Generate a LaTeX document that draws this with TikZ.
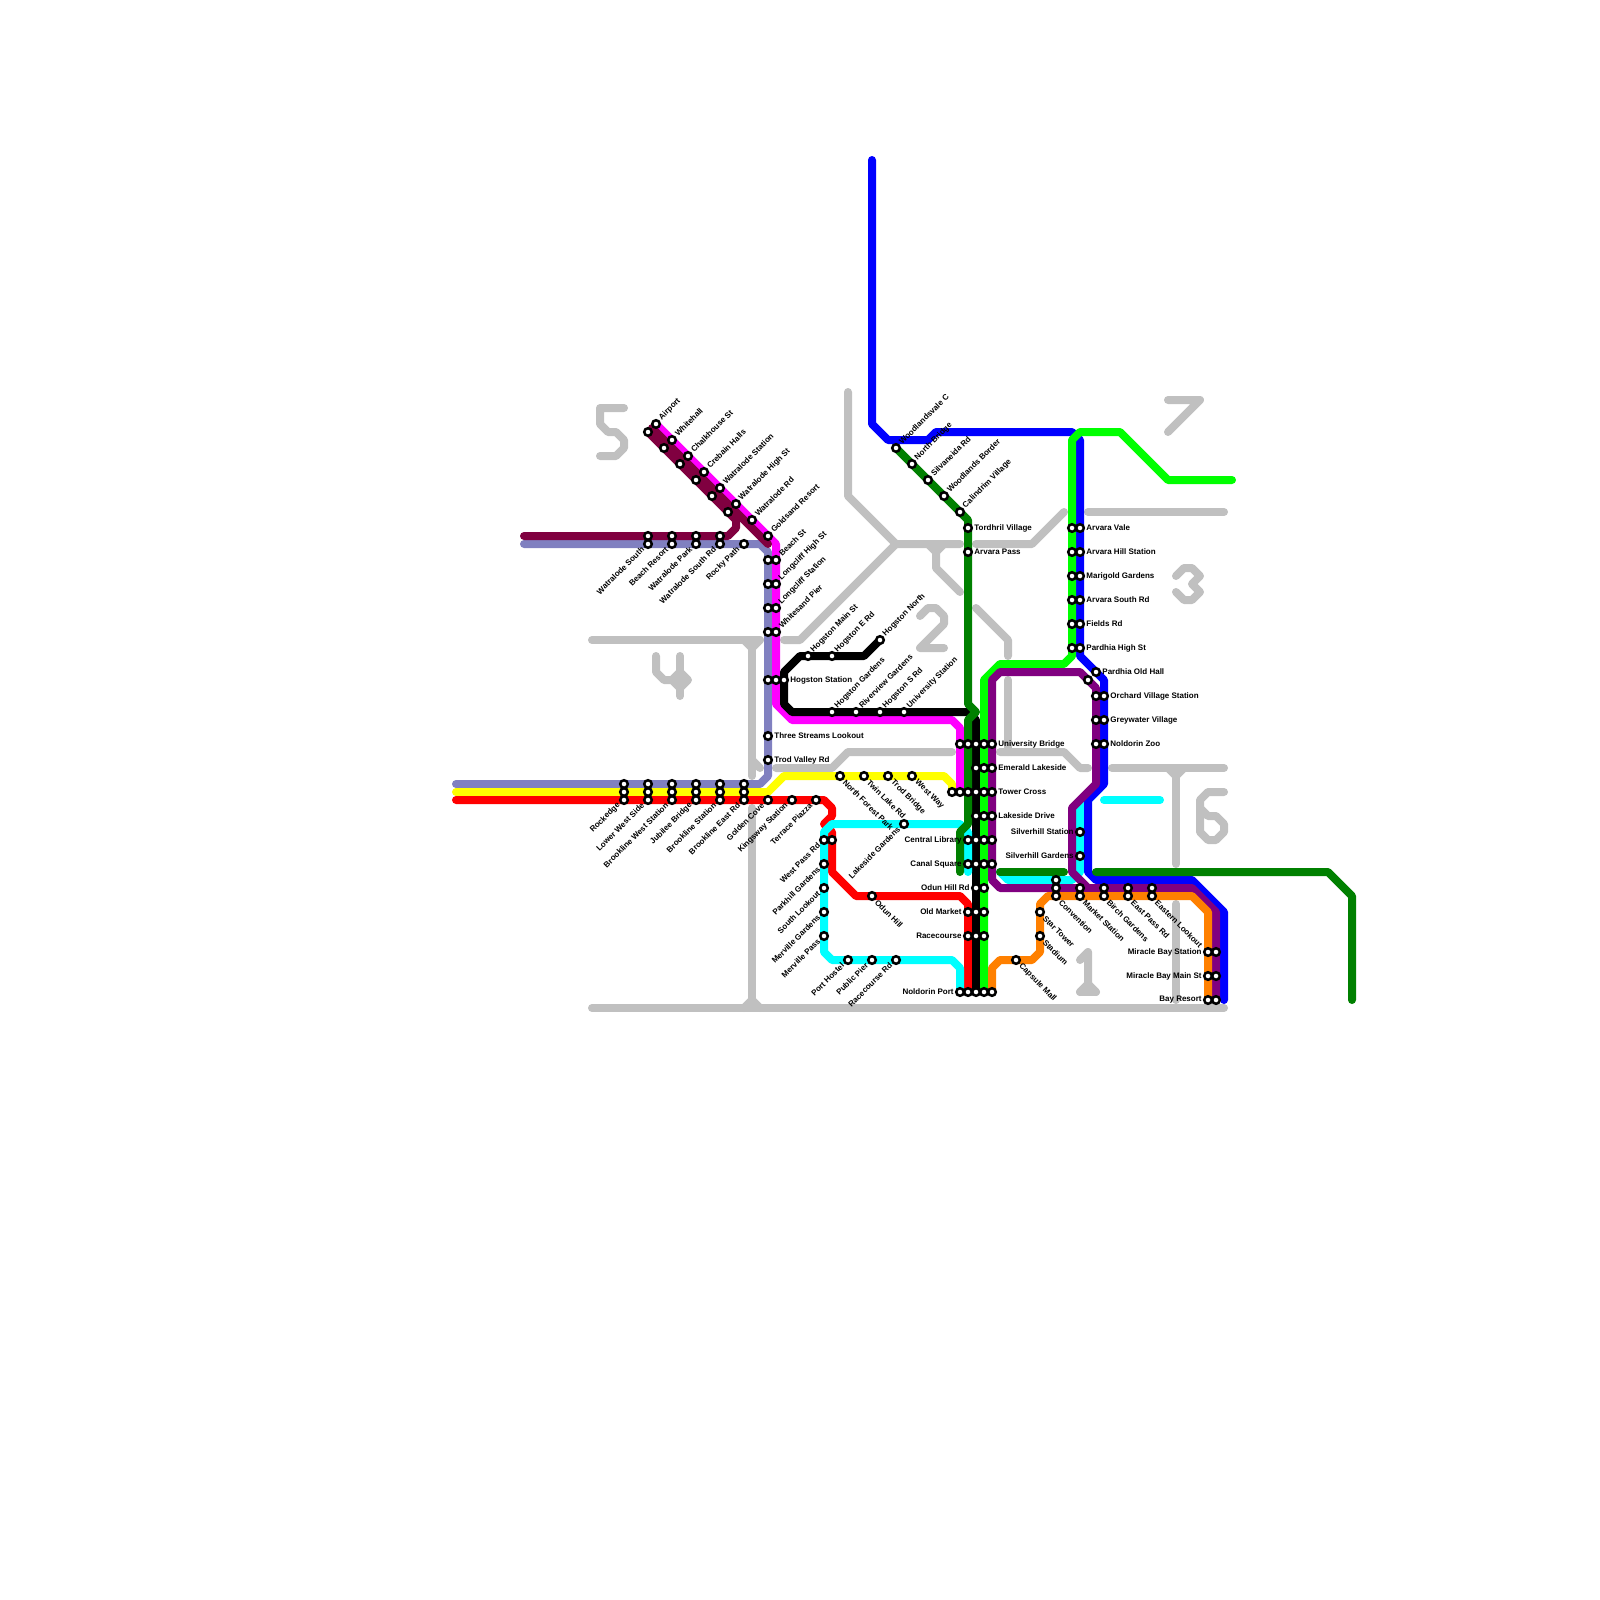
\documentclass[tikz,border=0pt]{standalone}
\usepackage{fontspec}
\setmainfont{Liberation Sans}
\definecolor{greyRiver}{HTML}{C0C0C0}
\definecolor{linePeri}{HTML}{8080C0}
\definecolor{lineMaroon}{HTML}{800040}
\definecolor{lineDark}{HTML}{008000}
\definecolor{lineOrange}{HTML}{FF8000}
\definecolor{lineMagenta}{HTML}{FF00FF}
\definecolor{lineCyan}{HTML}{00FFFF}
\definecolor{lineBlue}{HTML}{0000FF}
\definecolor{lineLime}{HTML}{00FF00}
\definecolor{linePurple}{HTML}{800080}
\definecolor{lineRed}{HTML}{FF0000}
\definecolor{lineYellow}{HTML}{FFFF00}
\tikzset{
  route/.style={line width=4pt,line cap=round,line join=round},
  river/.style={route,greyRiver},
  stop/.style={circle,draw=black,fill=white,line width=1.25pt,minimum size=3.8pt,inner sep=0pt},
  lab/.style={inner sep=0pt,font=\fontsize{4}{4}\selectfont\bfseries},
}
\begin{document}
\begin{tikzpicture}[x=0.5pt,y=-0.5pt]
  \useasboundingbox (0,0) rectangle (1600,1600);
  \fill[white] (0,0) rectangle (1600,1600);
  \draw[river] (592,1008) -- (1224,1008);
  \draw[river] (744,1008) -- (752,1000) -- (760,1008);
  \draw[river] (752,808) -- (752,1000);
  \draw[river] (592,640) -- (760,640);
  \draw[river] (744,640) -- (752,648) -- (760,640);
  \draw[river] (752,648) -- (752,776);
  \draw[river] (752,760) -- (760,768);
  \draw[river] (784,640) -- (800,640) -- (896,544);
  \draw[river] (848,392) -- (848,496) -- (896,544) -- (960,544);
  \draw[river] (976,544) -- (1032,544) -- (1064,512);
  \draw[river] (928,544) -- (936,552) -- (944,544);
  \draw[river] (936,552) -- (936,568) -- (960,592);
  \draw[river] (976,608) -- (1008,640) -- (1008,656);
  \draw[river] (1008,680) -- (1008,752);
  \draw[river] (1000,752) -- (1064,752) -- (1080,768) -- (1088,768);
  \draw[river] (776,768) -- (832,768) -- (848,752) -- (952,752);
  \draw[river] (1112,768) -- (1224,768);
  \draw[river] (1168,768) -- (1176,776) -- (1184,768);
  \draw[river] (1176,776) -- (1176,864);
  \draw[river] (1176,904) -- (1176,1000);
  \draw[river] (1088,512) -- (1224,512);
  \draw[river] (624,408) -- (600,408) -- (600,424) -- (608,432) -- (616,432) -- (624,440) -- (624,448) -- (616,456) -- (600,456);
  \draw[river] (680,656) -- (680,696);
  \draw[river] (656,656) -- (656,672) -- (664,680) -- (672,680) -- (680,688) -- (688,680) -- (680,672) -- (672,680);
  \draw[river] (920,616) -- (928,608) -- (936,608) -- (944,616) -- (944,624) -- (920,648) -- (944,648);
  \draw[river] (1176,576) -- (1184,568) -- (1192,568) -- (1200,576) -- (1192,584) -- (1200,592) -- (1192,600) -- (1184,600) -- (1176,592);
  \draw[river] (1168,400) -- (1200,400) -- (1168,432);
  \draw[river] (1224,792) -- (1208,792) -- (1200,800) -- (1200,832) -- (1208,840) -- (1216,840) -- (1224,832) -- (1224,824) -- (1216,816) -- (1208,816) -- (1200,808);
  \draw[river] (1080,960) -- (1088,952) -- (1088,984);
  \draw[river] (1080,992) -- (1096,992);
  \draw[river] (1080,992) -- (1088,984) -- (1096,992);

  \draw[route,linePeri] (524,544) -- (760,544) -- (768,552) -- (768,776) -- (760,784) -- (456,784);
  \draw[route,lineYellow] (456,792) -- (768,792) -- (784,776) -- (944,776) -- (952,784) -- (952,792);
  \draw[route,lineRed] (456,800) -- (824,800) -- (832,808) -- (832,816) -- (824,824) -- (832,832) -- (832,872) -- (856,896) -- (960,896) -- (968,904) -- (968,992);
  \draw[route,lineMagenta] (656,424) -- (776,544) -- (776,704) -- (792,720) -- (952,720) -- (960,728) -- (960,792);
  \draw[route,lineMaroon] (652,428) -- (768,544);
  \draw[route,lineMaroon] (648,432) -- (736,520) -- (736,528) -- (728,536) -- (524,536);
  \draw[route,black] (880,640) -- (864,656) -- (800,656) -- (784,672) -- (784,704) -- (792,712) -- (968,712) -- (976,720) -- (976,992);
  \draw[route,lineCyan] (824,936) -- (824,952) -- (832,960) -- (952,960) -- (960,968) -- (960,992);
  \draw[route,lineCyan] (968,872) -- (968,832) -- (960,824) -- (832,824) -- (824,832) -- (824,936);
  \draw[route,lineCyan] (1160,800) -- (1104,800);
  \draw[route,lineCyan] (1100,788) -- (1080,808) -- (1080,872) -- (1072,880) -- (1008,880) -- (1000,872);
  \draw[route,lineBlue] (872,160) -- (872,424) -- (888,440) -- (928,440) -- (936,432) -- (1072,432) -- (1080,440) -- (1080,656) -- (1104,680) -- (1104,784) -- (1088,800) -- (1088,872) -- (1096,880) -- (1192,880) -- (1224,912) -- (1224,1000);
  \draw[route,lineLime] (1232,480) -- (1168,480) -- (1120,432) -- (1080,432) -- (1072,440) -- (1072,656) -- (1064,664) -- (1000,664) -- (984,680) -- (984,992);
  \draw[route,linePurple] (1088,888) -- (1000,888) -- (992,880) -- (992,680) -- (1000,672) -- (1080,672) -- (1096,688) -- (1096,784) -- (1072,808) -- (1072,872) -- (1088,888) -- (1192,888) -- (1216,912) -- (1216,1000);
  \draw[route,lineOrange] (1208,1000) -- (1208,912) -- (1192,896) -- (1048,896) -- (1040,904) -- (1040,952) -- (1032,960) -- (1000,960) -- (992,968) -- (992,992);
  \draw[route,lineDark] (896,448) -- (968,520) -- (968,704) -- (976,712) -- (968,720) -- (968,824) -- (960,832) -- (960,872);
  \draw[route,lineDark] (1000,872) -- (1064,872);
  \draw[route,lineDark] (1096,872) -- (1328,872) -- (1352,896) -- (1352,1000);

  \foreach \x/\y in {656/424, 672/440, 688/456, 704/472, 720/488, 736/504, 752/520, 768/536,
    648/432, 664/448, 680/464, 696/480, 712/496, 728/512,
    648/536, 672/536, 696/536, 720/536, 648/544, 672/544, 696/544, 720/544, 744/544,
    768/560, 776/560, 768/584, 776/584, 768/608, 776/608, 768/632, 776/632,
    768/680, 776/680, 784/680, 808/656, 832/656, 880/640, 832/712, 856/712, 880/712, 904/712,
    768/736, 768/760,
    624/784, 624/792, 624/800, 648/784, 648/792, 648/800, 672/784, 672/792, 672/800,
    696/784, 696/792, 696/800, 720/784, 720/792, 720/800, 744/784, 744/792, 744/800,
    768/800, 792/800, 816/800,
    840/776, 864/776, 888/776, 912/776, 904/824,
    824/840, 832/840, 824/864, 824/888, 824/912, 824/936, 872/896, 848/960, 872/960, 896/960,
    896/448, 912/464, 928/480, 944/496, 960/512, 968/528, 968/552,
    1072/528, 1080/528, 1072/552, 1080/552, 1072/576, 1080/576, 1072/600, 1080/600,
    1072/624, 1080/624, 1072/648, 1080/648, 1096/672, 1088/680,
    1096/696, 1104/696, 1096/720, 1104/720, 1096/744, 1104/744,
    960/744, 968/744, 976/744, 984/744, 992/744, 976/768, 984/768, 992/768,
    952/792, 960/792, 968/792, 976/792, 984/792, 992/792, 976/816, 984/816, 992/816,
    968/840, 976/840, 984/840, 992/840, 968/864, 976/864, 984/864, 992/864,
    976/888, 984/888, 968/912, 976/912, 984/912, 968/936, 976/936, 984/936,
    960/992, 968/992, 976/992, 984/992, 992/992,
    1080/832, 1080/856, 1016/960, 1040/912, 1040/936,
    1056/880, 1056/888, 1056/896, 1080/888, 1080/896, 1104/888, 1104/896,
    1128/888, 1128/896, 1152/888, 1152/896,
    1208/952, 1216/952, 1208/976, 1216/976, 1208/1000, 1216/1000}
    \node[stop] (stop-\x-\y) at (\x,\y) {};

  \foreach \x/\y/\lab in {656/424/Airport, 672/440/Whitehall, 688/456/Chalkhouse St, 704/472/Crebain Halls,
    720/488/Watralode Station, 736/504/Watralode High St, 752/520/Watralode Rd, 768/536/Goldsand Resort,
    776/560/Beach St, 776/584/Longcliff High St, 776/608/Longcliff Station, 776/632/Whitesand Pier,
    808/656/Hogston Main St, 832/656/Hogston E Rd, 880/640/Hogston North, 832/712/Hogston Gardens,
    856/712/Riverview Gardens, 880/712/Hogston S Rd, 904/712/University Station,
    896/448/Woodlandsvale C, 912/464/North Bridge, 928/480/Silvaneida Rd, 944/496/Woodlands Border,
    960/512/Calindrim Village}
    \node[lab,rotate=45,anchor=west] (lab-\x-\y) at (\x+4,\y-5) {\lab};
  \foreach \x/\y/\lab in {648/544/Watralode South, 672/544/Beach Resort, 696/544/Watralode Park,
    720/544/Watralode South Rd, 744/544/Rocky Path, 624/800/Rockedge, 648/800/Lower West Side,
    672/800/Brookline West Station, 696/800/Jubilee Bridge, 720/800/Brookline Station,
    744/800/Brookline East Rd, 768/800/Golden Cove, 792/800/Kingsway Station, 816/800/Terrace Piazza,
    824/840/West Pass Rd, 824/864/Parkhill Gardens, 824/888/South Lookout, 824/912/Merville Gardens,
    824/936/Merville Pass, 848/960/Port Hostel, 872/960/Public Pier, 896/960/Racecourse Rd,
    904/824/Lakeside Gardens}
    \node[lab,rotate=45,anchor=east] (lab-\x-\y) at (\x-5,\y+4) {\lab};
  \foreach \x/\y/\lab in {840/776/North Forest Park, 864/776/Twin Lake Rd, 888/776/Trod Bridge,
    912/776/West Way, 872/896/Odun Hill, 1016/960/Capsule Mall, 1040/936/Stadium, 1040/912/Star Tower,
    1056/896/Convention, 1080/896/Market Station, 1104/896/Birch Gardens, 1128/896/East Pass Rd,
    1152/896/Eastern Lookout}
    \node[lab,rotate=-45,anchor=west] (lab-\x-\y) at (\x+4,\y+5) {\lab};
  \foreach \x/\y/\lab in {968/528/Tordhril Village, 968/552/Arvara Pass, 1080/528/Arvara Vale,
    1080/552/Arvara Hill Station, 1080/576/Marigold Gardens, 1080/600/Arvara South Rd, 1080/624/Fields Rd,
    1080/648/Pardhia High St, 1096/672/Pardhia Old Hall, 1104/696/Orchard Village Station,
    1104/720/Greywater Village, 1104/744/Noldorin Zoo, 784/680/Hogston Station,
    768/736/Three Streams Lookout, 768/760/Trod Valley Rd, 992/744/University Bridge,
    992/768/Emerald Lakeside, 992/792/Tower Cross, 992/816/Lakeside Drive}
    \node[lab,anchor=west] (lab-\x-\y) at (\x+6,\y) {\lab};
  \foreach \x/\y/\lab in {1080/832/Silverhill Station, 1080/856/Silverhill Gardens, 968/840/Central Library,
    968/864/Canal Square, 976/888/Odun Hill Rd, 968/912/Old Market, 968/936/Racecourse, 960/992/Noldorin Port,
    1208/952/Miracle Bay Station, 1208/976/Miracle Bay Main St, 1208/1000/Bay Resort}
    \node[lab,anchor=east] (lab-\x-\y) at (\x-6,\y) {\lab};
\end{tikzpicture}
\end{document}
